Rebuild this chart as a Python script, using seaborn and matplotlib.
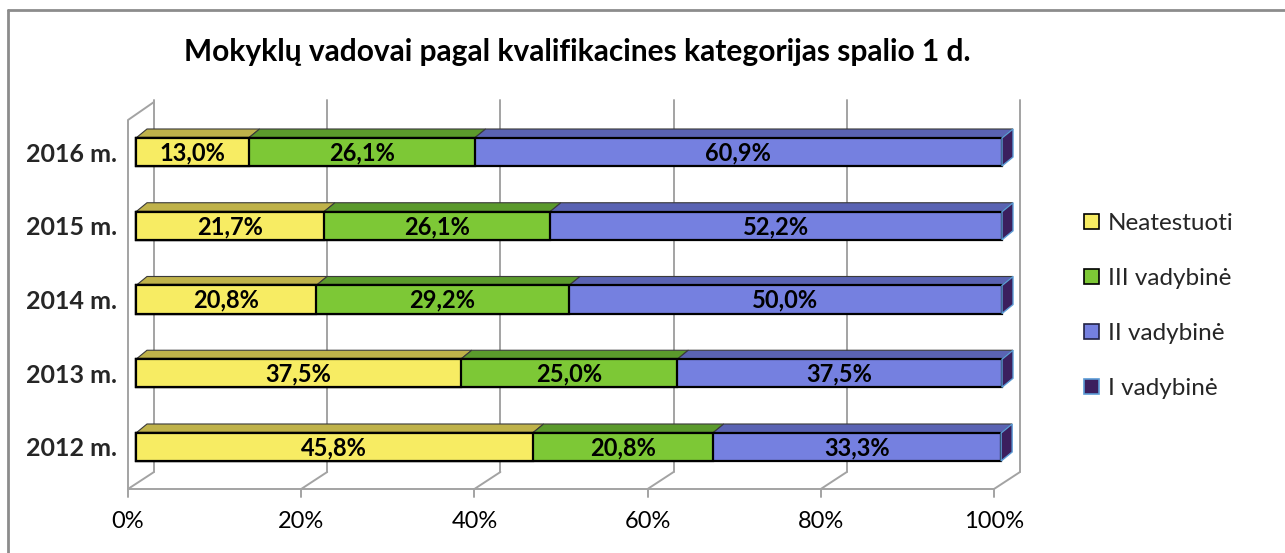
import matplotlib
matplotlib.use("Agg")
import matplotlib.pyplot as plt
import seaborn as sns
import numpy as np
from matplotlib.patches import Polygon, Patch
from matplotlib.lines import Line2D

years = ["2016 m.", "2015 m.", "2014 m.", "2013 m.", "2012 m."]
neatestuoti = [13.0, 21.7, 20.8, 37.5, 45.8]
iii_vadybine = [26.1, 26.1, 29.2, 25.0, 20.8]
ii_vadybine = [60.9, 52.2, 50.0, 37.5, 33.3]
i_vadybine = [0.0, 0.0, 0.0, 0.0, 0.0]
series_names = ["Neatestuoti", "III vadybinė", "II vadybinė", "I vadybinė"]
x_ticks = [0, 20, 40, 60, 80, 100]

front_colors = ["#f7ec63", "#7dc836", "#7580e0", "#3b1f5e"]
top_colors = ["#bfb24a", "#5b9a2c", "#5a63b3"]
grid_col = "#a3a3a3"

sns.set_theme(style="white")
plt.rcParams["font.family"] = ["Lato", "DejaVu Sans"]

W, H = 1285, 553
fig = plt.figure(figsize=(W / 100, H / 100), dpi=100)

# pixel layout
PX_X = 8.66     # px per percent
PX_Y = 73.75    # px per category step
Y0 = 152        # px of first bar centre
X0 = 136        # px of bar front 0%
ax_l, ax_r, ax_t, ax_b = 128, 1020, 100, 489
ax = fig.add_axes([ax_l / W, 1 - ax_b / H, (ax_r - ax_l) / W, (ax_b - ax_t) / H])

def dx(px):
    return px / PX_X

def dy(px):
    return px / PX_Y

# stacked bars, drawn as overlaid cumulative totals
cum1 = np.array(neatestuoti)
cum2 = cum1 + np.array(iii_vadybine)
cum3 = cum2 + np.array(ii_vadybine)
cum4 = cum3 + np.array(i_vadybine)
bar_h = 0.38
for vals, col in [(cum3, front_colors[2]), (cum2, front_colors[1]), (cum1, front_colors[0])]:
    sns.barplot(x=vals, y=years, order=years, orient="h", color=col, saturation=1,
                width=bar_h, edgecolor="black", linewidth=1.6, ax=ax, zorder=3)

ax.set_xlim((ax_l - X0) / PX_X, (ax_r - X0) / PX_X)
ax.set_ylim((ax_b - Y0) / PX_Y, (ax_t - Y0) / PX_Y)

# 3d top faces and right end
tdx, tdy = dx(11), dy(9)
for i in range(len(years)):
    top = i - bar_h / 2
    bot = i + bar_h / 2
    starts = [0, cum1[i], cum2[i]]
    ends = [cum1[i], cum2[i], cum3[i]]
    for k in range(3):
        x0, x1 = starts[k], ends[k]
        ax.add_patch(Polygon([(x0, top), (x1, top), (x1 + tdx, top - tdy), (x0 + tdx, top - tdy)],
                             closed=True, facecolor=top_colors[k], edgecolor="#3a3a3a",
                             linewidth=0.8, zorder=2.5))
    t = cum4[i]
    ax.add_patch(Polygon([(t, top), (t, bot), (t + tdx, bot - tdy), (t + tdx, top - tdy)],
                         closed=True, facecolor=front_colors[3], edgecolor="#5b9bd5",
                         linewidth=1.0, zorder=3.5))

# data labels
for i in range(len(years)):
    segs = [(0, cum1[i], neatestuoti[i]), (cum1[i], cum2[i], iii_vadybine[i]),
            (cum2[i], cum3[i], ii_vadybine[i])]
    for a, b, v in segs:
        ax.text((a + b) / 2, i + 0.01, f"{v:.1f}%".replace(".", ","), ha="center", va="center",
                fontsize=17, fontweight="bold", color="black", zorder=5)

# walls, floor and gridlines
floor_y = (ax_b - Y0) / PX_Y
fx = -dx(8)
wall_dx, wall_dy = dx(26), dy(17)
lw = 1.4
for v in x_ticks:
    x_front = v + fx
    x_back = x_front + wall_dx
    ax.plot([x_back, x_back], [floor_y - wall_dy, (ax_t - Y0) / PX_Y], color=grid_col, lw=lw,
            zorder=1, clip_on=False)
    ax.plot([x_front, x_back], [floor_y, floor_y - wall_dy], color=grid_col, lw=lw, zorder=1,
            clip_on=False)
    ax.plot([x_front, x_front], [floor_y, floor_y + dy(8)], color=grid_col, lw=lw, zorder=1,
            clip_on=False)
ax.plot([fx, 100 + fx], [floor_y, floor_y], color=grid_col, lw=lw, zorder=1, clip_on=False)
ax.plot([fx, fx, fx + wall_dx], [floor_y, (120 - Y0) / PX_Y, (102 - Y0) / PX_Y],
        color=grid_col, lw=lw, zorder=1, clip_on=False)

for v in x_ticks:
    ax.text(v + fx, floor_y + dy(33), f"{v}%", ha="center", va="center", fontsize=17,
            color="black")

ax.set_xticks([])
ax.set_yticks(range(len(years)))
ax.set_yticklabels(years, fontsize=18, fontweight="bold")
ax.tick_params(axis="y", length=0, pad=8)
ax.set_xlabel("")
ax.set_ylabel("")
for s in ax.spines.values():
    s.set_visible(False)
ax.patch.set_visible(False)

# legend
handles = [Patch(facecolor=front_colors[0], edgecolor="black", linewidth=1.2),
           Patch(facecolor=front_colors[1], edgecolor="black", linewidth=1.2),
           Patch(facecolor=front_colors[2], edgecolor="#222244", linewidth=1.2),
           Patch(facecolor=front_colors[3], edgecolor="#5b9bd5", linewidth=1.2)]
fig.legend(handles, series_names, loc="center left", bbox_to_anchor=(1062 / W, 1 - 306 / H),
           frameon=False, fontsize=17.5, handlelength=0.62, handleheight=0.62,
           labelspacing=1.4, handletextpad=0.38)

fig.text(577 / W, 1 - 52 / H, "Mokyklų vadovai pagal kvalifikacines kategorijas spalio 1 d.",
         ha="center", va="center", fontsize=21.5, fontweight="bold", color="black")

# outer frame
fig.add_artist(Line2D([8 / W, 8 / W], [0, 1 - 10 / H], color="#8c8c8c", lw=2))
fig.add_artist(Line2D([8 / W, 1], [1 - 10 / H, 1 - 10 / H], color="#8c8c8c", lw=2))

fig.savefig("out.png", dpi=100)
